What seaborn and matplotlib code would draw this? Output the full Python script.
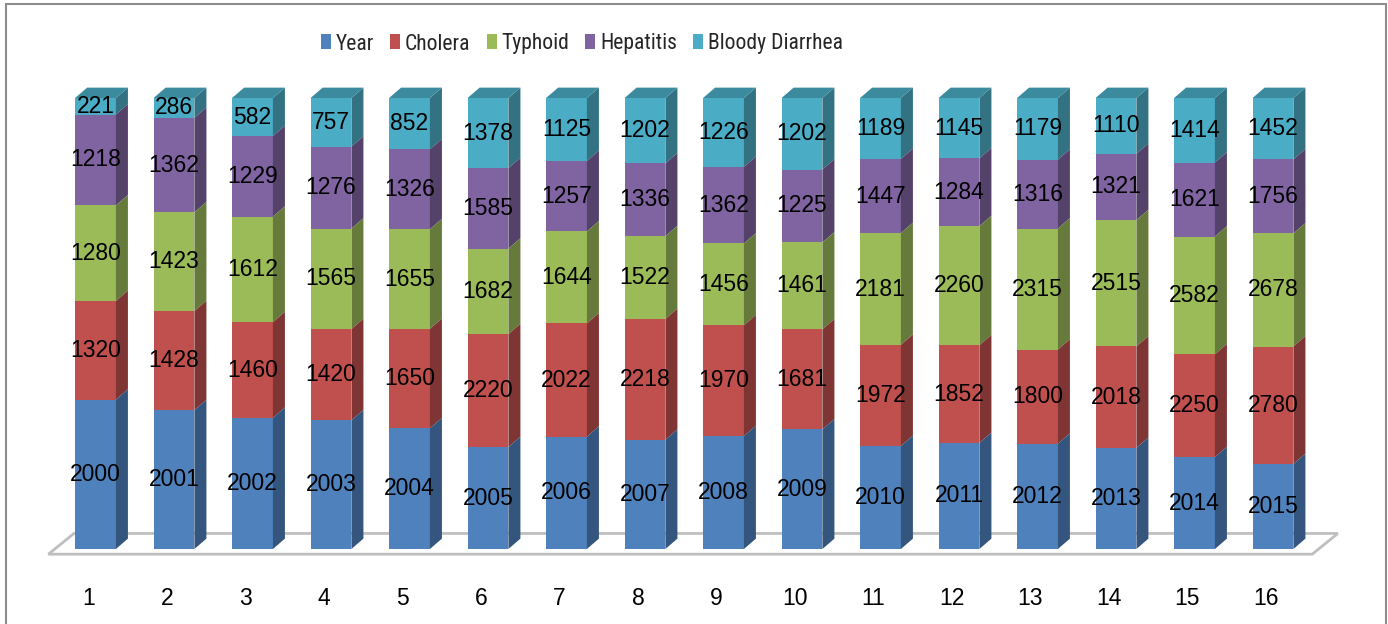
import numpy as np
import pandas as pd
import matplotlib
matplotlib.use("Agg")
import matplotlib.pyplot as plt
import seaborn as sns
from matplotlib import font_manager
from matplotlib.font_manager import FontProperties
from matplotlib.textpath import TextPath
from matplotlib.colors import to_rgb
from matplotlib.patches import Rectangle, Patch, Polygon

# ---------------- data ----------------
categories = [str(i) for i in range(1, 17)]
series_names = ["Year", "Cholera", "Typhoid", "Hepatitis", "Bloody Diarrhea"]
year = [2000, 2001, 2002, 2003, 2004, 2005, 2006, 2007, 2008, 2009, 2010, 2011, 2012, 2013, 2014, 2015]
cholera = [1320, 1428, 1460, 1420, 1650, 2220, 2022, 2218, 1970, 1681, 1972, 1852, 1800, 2018, 2250, 2780]
typhoid = [1280, 1423, 1612, 1565, 1655, 1682, 1644, 1522, 1456, 1461, 2181, 2260, 2315, 2515, 2582, 2678]
hepatitis = [1218, 1362, 1229, 1276, 1326, 1585, 1257, 1336, 1362, 1225, 1447, 1284, 1316, 1321, 1621, 1756]
bloody = [221, 286, 582, 757, 852, 1378, 1125, 1202, 1226, 1202, 1189, 1145, 1179, 1110, 1414, 1452]
colors = ["#4F81BD", "#C0504D", "#9BBB59", "#8064A2", "#4BACC6"]

# ---------------- style ----------------
sns.set_theme(style="white")
installed = {f.name for f in font_manager.fontManager.ttflist}
main_font = "Liberation Sans" if "Liberation Sans" in installed else "DejaVu Sans"
plt.rcParams["font.family"] = [main_font, "DejaVu Sans"]

# legend font: prefer a narrow face (closer to Calibri), fit its size to the legend width
legend_font = main_font
for cand in ["Liberation Sans Narrow", "Roboto Condensed", "Open Sans Condensed"]:
    if cand in installed:
        legend_font = cand
        break
_fp = FontProperties(family=legend_font, size=10)
_w_pt = TextPath((0, 0), "Bloody Diarrhea", prop=_fp).get_extents().width
legend_size = 10 * 118 / (_w_pt * 100 / 72)
legend_size = min(legend_size * 1.12, 16)

values = np.array([year, cholera, typhoid, hepatitis, bloody], dtype=float)
totals = values.sum(axis=0)
frac = values / totals
tops = np.cumsum(frac, axis=0)
bottoms = tops - frac

n = len(categories)
bar_w = 0.52
ddx, ddy = 0.153, 0.023  # 3D depth of bars (data units)


def shade(c, f):
    r, g, b = to_rgb(c)
    return (r * f, g * f, b * f)


fig = plt.figure(figsize=(13.88, 6.24), dpi=100)
ax = fig.add_axes([0, 49 / 624, 1, 515 / 624])

# floor
fx0, fx1 = -0.6, n - 0.5
fy0 = -ddy / 2
floor = Polygon([(fx0, fy0), (fx1, fy0), (fx1 + 2 * ddx + 0.02, fy0 + 2 * ddy),
                 (fx0 + 2 * ddx + 0.02, fy0 + 2 * ddy)], closed=True,
                facecolor="white", edgecolor="#BFBFBF", lw=2, zorder=0.5)
ax.add_patch(floor)

# stacked bars (draw tallest cumulative first)
for k in range(len(series_names) - 1, -1, -1):
    sns.barplot(x=categories, y=tops[k], color=colors[k], saturation=1,
                width=bar_w, errorbar=None, linewidth=0, ax=ax, zorder=2)
    patches = ax.patches[-n:]
    for i, p in enumerate(patches):
        xl = p.get_x()
        xr = xl + p.get_width()
        b, t = bottoms[k][i], tops[k][i]
        side = Polygon([(xr, b), (xr + ddx, b + ddy), (xr + ddx, t + ddy), (xr, t)],
                       closed=True, facecolor=shade(colors[k], 0.66), lw=0, zorder=2)
        ax.add_patch(side)
        if k == len(series_names) - 1:
            top = Polygon([(xl, t), (xr, t), (xr + ddx, t + ddy), (xl + ddx, t + ddy)],
                          closed=True, facecolor=shade(colors[k], 0.8), lw=0, zorder=2)
            ax.add_patch(top)

# data labels
for k in range(len(series_names)):
    for i in range(n):
        ax.text(i, (bottoms[k][i] + tops[k][i]) / 2, f"{int(values[k][i])}",
                ha="center", va="center", fontsize=16.5, color="black", zorder=5)

ax.set_xlim(-95.5 / 78.5, (1388 - 95.5) / 78.5)
ax.set_ylim(-26 / 451, 1 + 38 / 451)
ax.set_xticks(np.arange(n) - 0.09)
ax.set_xticklabels(categories)
ax.tick_params(axis="x", length=0, pad=8.5, labelsize=16.5, colors="black")
ax.set_yticks([])
ax.set_xlabel("")
ax.set_ylabel("")
sns.despine(ax=ax, left=True, bottom=True)

handles = [Patch(facecolor=c, edgecolor="none", label=s) for c, s in zip(colors, series_names)]
fs_px = legend_size * 100 / 72
fig.legend(handles=handles, loc="center", bbox_to_anchor=(582 / 1388, 1 - 44 / 624),
           ncol=5, frameon=False, prop={"family": legend_font, "size": legend_size},
           handlelength=10 / fs_px, handleheight=15 / fs_px,
           handletextpad=5 / fs_px, columnspacing=16 / fs_px, borderpad=0)

fig.add_artist(Rectangle((6 / 1388, -0.05), 1380 / 1388, (1 - 4 / 624) + 0.05,
                         transform=fig.transFigure, fill=False,
                         edgecolor="#8C8C8C", lw=1.5))

fig.savefig("out.png", dpi=100)
